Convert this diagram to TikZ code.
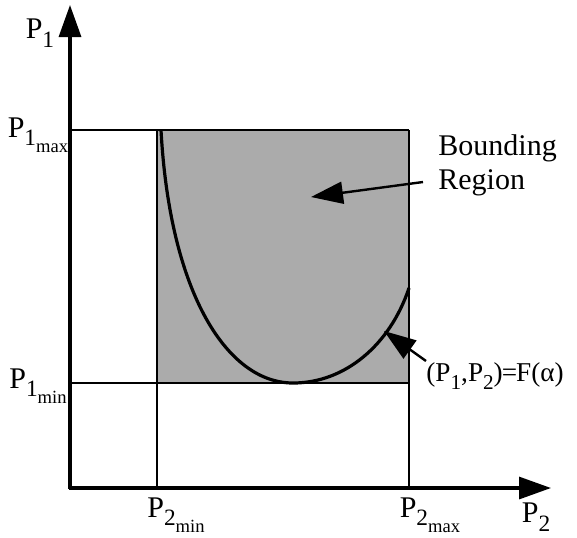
\documentclass[tikz,border=0pt]{standalone}
\usepackage{fontspec}
\setmainfont{Liberation Serif}
\usepackage{tikz}
\usetikzlibrary{arrows.meta,calc}
\definecolor{region}{HTML}{ABABAB}
\newcommand{\lowsub}[1]{\raisebox{-0.28em}{\scalebox{0.78}{#1}}}
\newcommand{\tinysub}[1]{\raisebox{-0.5em}{\scalebox{0.62}{#1}}}

\begin{document}
\begin{tikzpicture}[x=0.5pt,y=-0.5pt,
  font=\fontsize{15}{17}\selectfont,
  axis/.style={line width=1.6pt,-{Triangle[length=16pt,width=11pt]}},
  bound/.style={line width=1pt},
  curve/.style={line width=1.6pt},
  ptr/.style={line width=1.2pt,-{Triangle[length=16pt,width=11pt]}},
  lbl/.style={inner sep=0pt}]
  \useasboundingbox (0,0) rectangle (577,537);

  % limits of the parameters
  \coordinate (o)  at (70,488);
  \coordinate (ay) at (70,5);
  \coordinate (ax) at (551,488);
  \coordinate (tl) at (157,130);
  \coordinate (br) at (409,383);

  \fill[region] (tl) rectangle (br);
  \foreach \y in {130,383}{
    \draw[bound] (o |- 0,\y) -- (409,\y);}
  \foreach \x in {157,409}{
    \draw[bound] (\x,130) -- (o -| \x,0);}

  \draw[curve] (161,130) .. controls (170,295) and (228,383) .. (293,383)
               .. controls (345,383) and (390,345) .. (409,288);

  \draw[axis] ($(o)+(0,1)$) -- (ay);
  \draw[axis] ($(o)+(-1,0)$) -- (ax);

  \node[lbl] (p1)    at (40,33)   {P\lowsub{1}};
  \node[lbl] (p1max) at (38,135)  {P\lowsub{1}\tinysub{max}};
  \node[lbl] (p1min) at (38,386)  {P\lowsub{1}\tinysub{min}};
  \node[lbl] (p2min) at (176,515) {P\lowsub{2}\tinysub{min}};
  \node[lbl] (p2max) at (430,515) {P\lowsub{2}\tinysub{max}};
  \node[lbl] (p2)    at (536,517) {P\lowsub{2}};

  \node[lbl,anchor=west,align=left] (bnd) at (438,165) {Bounding\\Region};
  \node[lbl,anchor=west,font=\fontsize{13.6}{16}\selectfont] (fa) at (426,376)
    {(P\lowsub{1},P\lowsub{2})\kern-0.5pt=\kern-0.5pt F(α)};

  \coordinate (btail) at (423,182);
  \coordinate (btip)  at (311,197);
  \draw[ptr] (btail) -- (btip);
  \coordinate (ftail) at (426,361);
  \coordinate (ftip)  at (384,331);
  \draw[ptr] (ftail) -- (ftip);
\end{tikzpicture}
\end{document}
